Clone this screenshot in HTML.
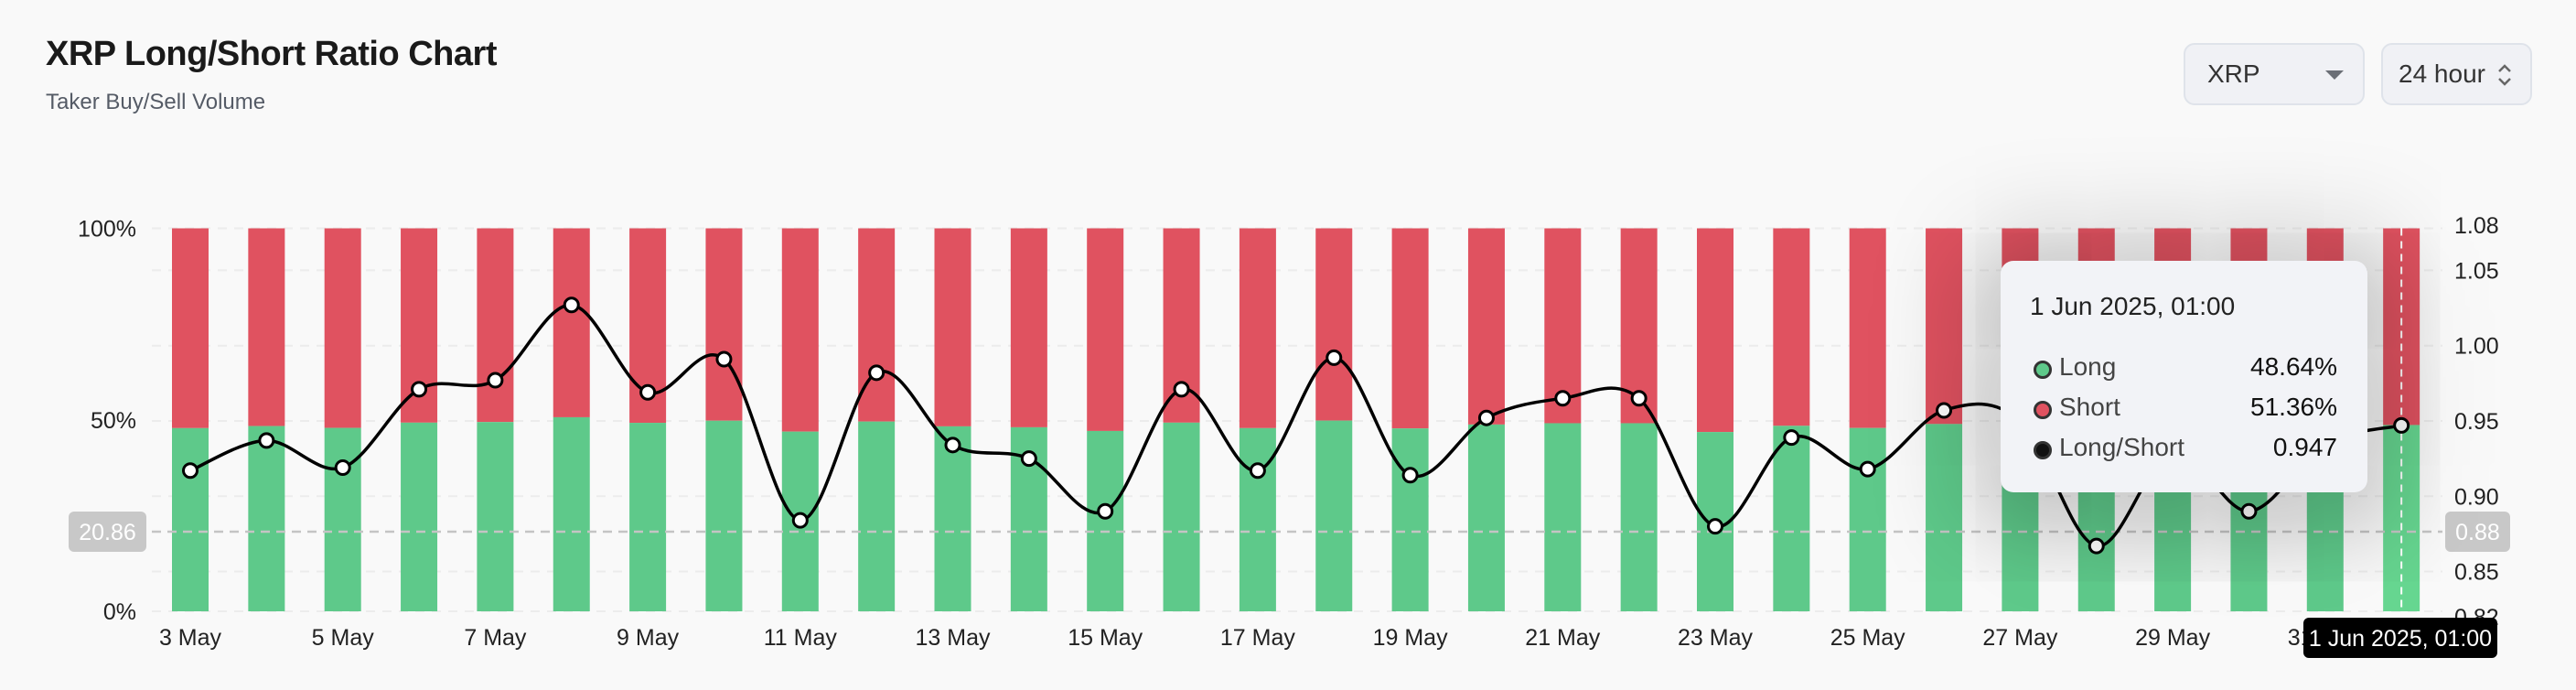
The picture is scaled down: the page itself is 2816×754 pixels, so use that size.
<!DOCTYPE html>
<html><head><meta charset="utf-8">
<style>
html,body{margin:0;padding:0;background:#f9f9f9;width:2816px;height:754px;overflow:hidden;font-family:"Liberation Sans",sans-serif;}
#title{position:absolute;left:50px;top:38px;font-size:38px;font-weight:bold;color:#1a1a1a;letter-spacing:-0.5px;}
#sub{position:absolute;left:50px;top:98px;font-size:24px;color:#555b66;}
.sel{position:absolute;top:47px;height:68px;border:2px solid #dfe3ea;border-radius:12px;background:#f0f1f5;box-sizing:border-box;font-size:28px;color:#333;line-height:64px;}
#tip{position:absolute;left:2187px;top:285px;width:401px;height:253px;background:#f2f3f7;border-radius:14px;box-shadow:0 10px 110px 30px rgba(0,0,0,0.26);font-size:28px;color:#222;}
.row{position:absolute;left:28px;right:33px;height:36px;}
.dot{position:absolute;left:0;top:9px;width:14px;height:14px;border-radius:50%;border:3px solid #333;}
.lab{position:absolute;left:28px;top:0;color:#444;}
.val{position:absolute;right:0;top:0;color:#111;}
</style></head><body>
<div id="title">XRP Long/Short Ratio Chart</div>
<div id="sub">Taker Buy/Sell Volume</div>
<div class="sel" style="left:2387px;width:198px;"><span style="position:absolute;left:24px;">XRP</span><span style="position:absolute;left:153px;top:28px;width:0;height:0;border-left:10px solid transparent;border-right:10px solid transparent;border-top:10px solid #6b6f76;"></span></div>
<div class="sel" style="left:2603px;width:165px;"><span style="position:absolute;left:17px;">24 hour</span><svg style="position:absolute;left:124px;top:20px;" width="18" height="26"><path d="M3 9 L9 3 L15 9 M3 17 L9 23 L15 17" fill="none" stroke="#666" stroke-width="2.5"/></svg></div>
<svg id="chart" width="2816" height="754" style="position:absolute;left:0;top:0;"></svg>
<div id="tip">
<div style="position:absolute;left:32px;top:34px;">1 Jun 2025, 01:00</div>
<div class="row" style="top:100px;left:36px;"><span class="dot" style="background:#5ec98a;"></span><span class="lab">Long</span><span class="val">48.64%</span></div>
<div class="row" style="top:144px;left:36px;"><span class="dot" style="background:#e05260;"></span><span class="lab">Short</span><span class="val">51.36%</span></div>
<div class="row" style="top:188px;left:36px;"><span class="dot" style="background:#111;"></span><span class="lab">Long/Short</span><span class="val">0.947</span></div>
</div>
<script>
const dates=["3 May","4 May","5 May","6 May","7 May","8 May","9 May","10 May","11 May","12 May","13 May","14 May","15 May","16 May","17 May","18 May","19 May","20 May","21 May","22 May","23 May","24 May","25 May","26 May","27 May","28 May","29 May","30 May","31 May","1 Jun"];
const longPct=[47.83,48.37,47.89,49.26,49.42,50.67,49.21,49.77,46.92,49.55,48.29,48.05,47.09,49.26,47.83,49.80,47.75,48.77,49.11,49.11,46.81,48.43,47.86,48.90,48.72,46.44,48.19,47.09,48.32,48.64];
const ratio=[0.917,0.937,0.919,0.971,0.977,1.027,0.969,0.991,0.884,0.982,0.934,0.925,0.890,0.971,0.917,0.992,0.914,0.952,0.965,0.965,0.880,0.939,0.918,0.957,0.950,0.867,0.930,0.890,0.935,0.947];
const leftTicks=[0,50,100];
const rightTicks=[0.82,0.85,0.90,0.95,1.00,1.05,1.08];
const gridVals=[0.85,0.90,0.95,1.00,1.05];
const NS="http://www.w3.org/2000/svg";
const svg=document.getElementById('chart');
const top0=249.5,bot=668,x0=208,step=83.35,bw=40;
const rMin=0.8236,rMax=1.0779;
function xs(i){return x0+i*step;}
function yp(p){return bot-(p/100)*(bot-top0);}
function yr(v){return bot-(v-rMin)/(rMax-rMin)*(bot-top0);}
function mk(tag,attrs){const e=document.createElementNS(NS,tag);for(const k in attrs)e.setAttribute(k,attrs[k]);svg.appendChild(e);return e;}
[0,100].forEach(p=>{const l=mk('line',{x1:166,x2:2670,y1:yp(p),y2:yp(p),stroke:'#ececec','stroke-width':2,'stroke-dasharray':'10 8'});

});
gridVals.forEach(v=>{const l=mk('line',{x1:166,x2:2670,y1:yr(v),y2:yr(v),stroke:'#ececec','stroke-width':2,'stroke-dasharray':'10 8'});

});
dates.forEach((d,i)=>{
 const last=i===dates.length-1;
 const r=mk('rect',{x:xs(i)-bw/2,y:top0,width:bw,height:yp(longPct[i])-top0,fill:'#e05260'});
 
 
 const g=mk('rect',{x:xs(i)-bw/2,y:yp(longPct[i]),width:bw,height:bot-yp(longPct[i]),fill:last?'#66d690':'#5ec98a'});
 
 
});
leftTicks.forEach(p=>{const t=mk('text',{x:149,y:yp(p)+9,'text-anchor':'end','font-size':25,fill:'#222'});t.textContent=p+'%';

});
rightTicks.forEach(v=>{const t=mk('text',{x:2683,y:yr(v)+9,'font-size':25,fill:'#222'});t.textContent=v.toFixed(2);

});
dates.forEach((d,i)=>{if(i%2)return;const t=mk('text',{x:xs(i),y:705,'text-anchor':'middle','font-size':25,fill:'#222'});t.textContent=d;

});
const ch=mk('line',{x1:166,x2:2670,y1:581,y2:581,stroke:'#c4c4c4','stroke-width':2.5,'stroke-dasharray':'10 7'});


const cv=mk('line',{x1:xs(29),x2:xs(29),y1:top0,y2:bot,stroke:'#ffffff','stroke-width':2,'stroke-dasharray':'8 6'});


const pts=ratio.map((v,i)=>[xs(i),yr(v)]);
let d='M'+pts[0][0]+','+pts[0][1];
for(let i=0;i<pts.length-1;i++){const p0=pts[Math.max(0,i-1)],p1=pts[i],p2=pts[i+1],p3=pts[Math.min(pts.length-1,i+2)];
 const c1=[p1[0]+(p2[0]-p0[0])/6,p1[1]+(p2[1]-p0[1])/6],c2=[p2[0]-(p3[0]-p1[0])/6,p2[1]-(p3[1]-p1[1])/6];
 d+=' C'+c1+' '+c2+' '+p2;}
const path=mk('path',{d:d,fill:'none',stroke:'#000','stroke-width':3.5});


pts.forEach(p=>{const c=mk('circle',{cx:p[0],cy:p[1],r:7.5,fill:'#fff',stroke:'#000','stroke-width':3});

});
function box(x,y,w,h,fill,txt,name,tc){const r=mk('rect',{x:x,y:y,width:w,height:h,rx:6,fill:fill});


const t=mk('text',{x:x+w/2,y:y+h/2+9,'text-anchor':'middle','font-size':25,fill:tc});t.textContent=txt;

}
box(75,559,85,44,'#c8c8c8','20.86','left-crosshair-label','#fff');
box(2673,559,71,44,'#c8c8c8','0.88','right-crosshair-label','#fff');
box(2518,675,212,44,'#000','1 Jun 2025, 01:00','x-crosshair-label','#fff');
</script>
</body></html>
